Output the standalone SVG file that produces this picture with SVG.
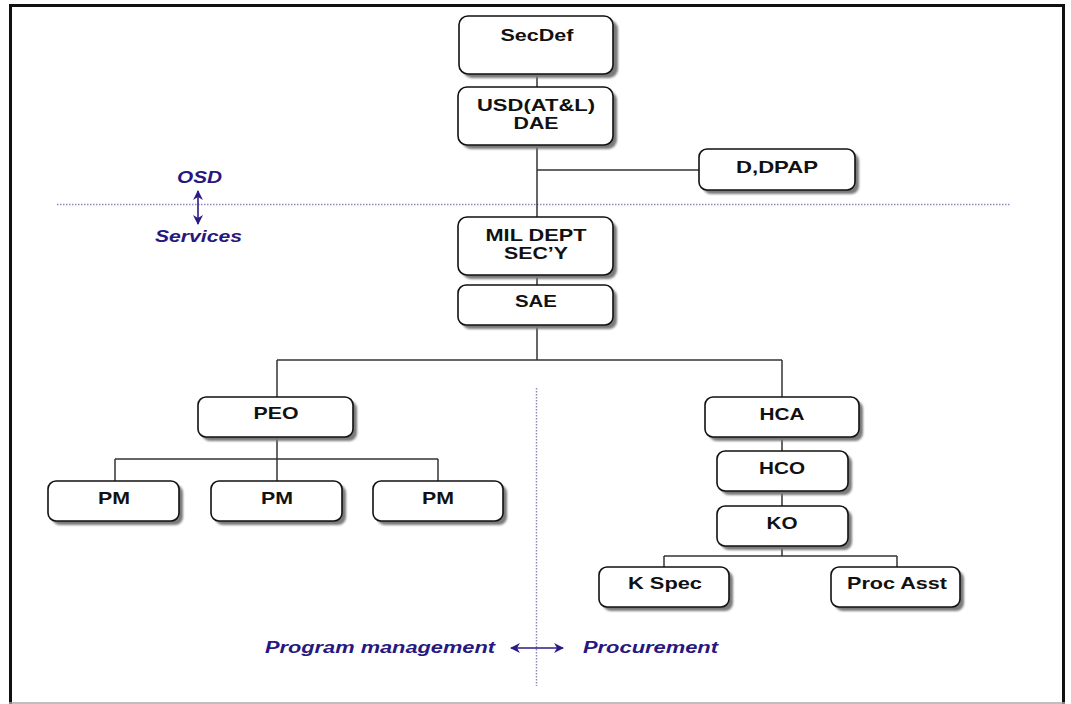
<svg xmlns="http://www.w3.org/2000/svg" width="1071" height="704" viewBox="0 0 1071 704">
<defs>
<filter id="sh" x="-10%" y="-10%" width="130%" height="140%">
<feGaussianBlur stdDeviation="1"/>
</filter>
<marker id="ah" viewBox="0 0 10 10" refX="9" refY="5" markerWidth="11" markerHeight="10" orient="auto-start-reverse" markerUnits="userSpaceOnUse">
<path d="M0,0 L10,5 L0,10 L3,5 Z" fill="#2b1b85"/>
</marker>
</defs>
<style>
.box{fill:#fff;stroke:#111;stroke-width:1.6}
.shadow{fill:#7a7a7a;filter:url(#sh)}
.t{font-family:"Liberation Sans",Arial,sans-serif;font-weight:bold;font-size:16.5px;fill:#111;text-anchor:middle}
.lbl{font-family:"Liberation Sans",Arial,sans-serif;font-weight:bold;font-style:italic;font-size:16px;fill:#27177f}
.ln{stroke:#333;stroke-width:1.5;fill:none}
.dot{stroke:#8c8abb;stroke-width:1.5;stroke-dasharray:1.5 1.5;fill:none}
.arr{stroke:#2b1b85;stroke-width:1.6;fill:none}
</style>
<rect width="1071" height="704" fill="#fff"/>
<g id="frame">
<path d="M10.5,704 V5.5 H1063.5 V704" fill="none" stroke="#111" stroke-width="3"/>
<line x1="9" y1="703" x2="1065" y2="703" stroke="#aaa" stroke-width="1.5"/>
</g>
<g id="dividers">
<line class="dot" x1="57" y1="204.5" x2="1010" y2="204.5"/>
<line class="dot" x1="536.5" y1="388" x2="536.5" y2="686"/>
</g>
<g id="connectors">
<line class="ln" x1="537" y1="74" x2="537" y2="87"/>
<line class="ln" x1="537" y1="145" x2="537" y2="217"/>
<line class="ln" x1="537" y1="170" x2="699" y2="170"/>
<line class="ln" x1="537" y1="275" x2="537" y2="285"/>
<line class="ln" x1="537" y1="325" x2="537" y2="360"/>
<line class="ln" x1="277" y1="360" x2="782" y2="360"/>
<line class="ln" x1="277" y1="360" x2="277" y2="397"/>
<line class="ln" x1="782" y1="360" x2="782" y2="397"/>
<line class="ln" x1="277" y1="437" x2="277" y2="481"/>
<line class="ln" x1="115" y1="459" x2="438" y2="459"/>
<line class="ln" x1="115" y1="459" x2="115" y2="481"/>
<line class="ln" x1="438" y1="459" x2="438" y2="481"/>
<line class="ln" x1="782" y1="437" x2="782" y2="451"/>
<line class="ln" x1="782" y1="491" x2="782" y2="506"/>
<line class="ln" x1="782" y1="546" x2="782" y2="556"/>
<line class="ln" x1="664" y1="556" x2="897" y2="556"/>
<line class="ln" x1="664" y1="556" x2="664" y2="567"/>
<line class="ln" x1="897" y1="556" x2="897" y2="567"/>
</g>
<g id="n-secdef">
<rect class="shadow" x="463" y="20" width="155" height="58" rx="9"/>
<rect class="box" x="459" y="16" width="154" height="58" rx="9"/>
<text class="t" x="537" y="41" textLength="73" lengthAdjust="spacingAndGlyphs">SecDef</text>
</g>
<g id="n-usd">
<rect class="shadow" x="462" y="91" width="155" height="58" rx="9"/>
<rect class="box" x="458" y="87" width="155" height="58" rx="9"/>
<text class="t" x="536" y="111" textLength="118" lengthAdjust="spacingAndGlyphs">USD(AT&amp;L)</text>
<text class="t" x="536" y="129" textLength="45" lengthAdjust="spacingAndGlyphs">DAE</text>
</g>
<g id="n-ddpap">
<rect class="shadow" x="703" y="153" width="156" height="41" rx="8"/>
<rect class="box" x="699" y="149" width="156" height="41" rx="8"/>
<text class="t" x="777" y="173" textLength="82" lengthAdjust="spacingAndGlyphs">D,DPAP</text>
</g>
<g id="n-mil">
<rect class="shadow" x="462" y="221" width="155" height="58" rx="9"/>
<rect class="box" x="458" y="217" width="155" height="58" rx="9"/>
<text class="t" x="536" y="241" textLength="101" lengthAdjust="spacingAndGlyphs">MIL DEPT</text>
<text class="t" x="536" y="259" textLength="64" lengthAdjust="spacingAndGlyphs">SEC’Y</text>
</g>
<g id="n-sae">
<rect class="shadow" x="462" y="289" width="155" height="40" rx="8"/>
<rect class="box" x="458" y="285" width="155" height="40" rx="8"/>
<text class="t" x="536" y="307" textLength="42" lengthAdjust="spacingAndGlyphs">SAE</text>
</g>
<g id="n-peo">
<rect class="shadow" x="202" y="401" width="155" height="40" rx="8"/>
<rect class="box" x="198" y="397" width="155" height="40" rx="8"/>
<text class="t" x="276" y="419" textLength="45" lengthAdjust="spacingAndGlyphs">PEO</text>
</g>
<g id="n-pm1">
<rect class="shadow" x="52" y="485" width="131" height="40" rx="8"/>
<rect class="box" x="48" y="481" width="131" height="40" rx="8"/>
<text class="t" x="114" y="504" textLength="32" lengthAdjust="spacingAndGlyphs">PM</text>
</g>
<g id="n-pm2">
<rect class="shadow" x="215" y="485" width="131" height="40" rx="8"/>
<rect class="box" x="211" y="481" width="131" height="40" rx="8"/>
<text class="t" x="277" y="504" textLength="32" lengthAdjust="spacingAndGlyphs">PM</text>
</g>
<g id="n-pm3">
<rect class="shadow" x="377" y="485" width="130" height="40" rx="8"/>
<rect class="box" x="373" y="481" width="130" height="40" rx="8"/>
<text class="t" x="438" y="504" textLength="32" lengthAdjust="spacingAndGlyphs">PM</text>
</g>
<g id="n-hca">
<rect class="shadow" x="709" y="401" width="154" height="40" rx="8"/>
<rect class="box" x="705" y="397" width="154" height="40" rx="8"/>
<text class="t" x="782" y="420" textLength="45" lengthAdjust="spacingAndGlyphs">HCA</text>
</g>
<g id="n-hco">
<rect class="shadow" x="721" y="455" width="131" height="40" rx="8"/>
<rect class="box" x="717" y="451" width="131" height="40" rx="8"/>
<text class="t" x="782" y="474" textLength="46" lengthAdjust="spacingAndGlyphs">HCO</text>
</g>
<g id="n-ko">
<rect class="shadow" x="721" y="510" width="131" height="40" rx="8"/>
<rect class="box" x="717" y="506" width="131" height="40" rx="8"/>
<text class="t" x="782" y="529" textLength="31" lengthAdjust="spacingAndGlyphs">KO</text>
</g>
<g id="n-kspec">
<rect class="shadow" x="603" y="571" width="130" height="40" rx="8"/>
<rect class="box" x="599" y="567" width="130" height="40" rx="8"/>
<text class="t" x="665" y="589" textLength="74" lengthAdjust="spacingAndGlyphs">K Spec</text>
</g>
<g id="n-procasst">
<rect class="shadow" x="835" y="571" width="129" height="40" rx="8"/>
<rect class="box" x="831" y="567" width="129" height="40" rx="8"/>
<text class="t" x="897" y="589" textLength="100" lengthAdjust="spacingAndGlyphs">Proc Asst</text>
</g>
<g id="labels">
<text class="lbl" x="177" y="183" textLength="45" lengthAdjust="spacingAndGlyphs">OSD</text>
<text class="lbl" x="155" y="242" textLength="87" lengthAdjust="spacingAndGlyphs">Services</text>
<line class="arr" x1="198" y1="191" x2="198" y2="224" marker-start="url(#ah)" marker-end="url(#ah)"/>
<text class="lbl" x="265" y="653" textLength="230" lengthAdjust="spacingAndGlyphs">Program management</text>
<text class="lbl" x="583" y="653" textLength="135" lengthAdjust="spacingAndGlyphs">Procurement</text>
<line class="arr" x1="511" y1="648" x2="563" y2="648" marker-start="url(#ah)" marker-end="url(#ah)"/>
</g>
</svg>
